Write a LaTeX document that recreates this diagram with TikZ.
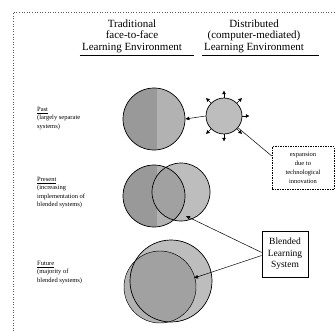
\documentclass[tikz,border=0pt]{standalone}
\usepackage{fontspec}
\setmainfont{Liberation Serif}
\usetikzlibrary{arrows.meta,calc}
\definecolor{tradD}{gray}{0.60}
\definecolor{tradL}{gray}{0.70}
\definecolor{distC}{gray}{0.74}
\definecolor{ovC}{gray}{0.63}
\tikzset{
  hdr/.style={align=center,inner sep=0pt,font=\fontsize{11}{11.5}\selectfont},
  lbl/.style={align=left,inner sep=0pt,anchor=north west,font=\fontsize{6.5}{8.5}\selectfont},
  circ/.style={circle,draw=black,line width=0.7pt,inner sep=0pt},
  arr/.style={-{Triangle[length=4pt,width=3.5pt]},line width=0.5pt},
  ray/.style={-{Triangle[length=3.5pt,width=3.5pt]},line width=0.6pt},
  conn/.style={line width=0.5pt},
  frame/.style={dotted,line width=0.6pt,gray!70!black}
}
\begin{document}
\begin{tikzpicture}[x=1pt,y=-1pt]
\useasboundingbox (0,0) rectangle (336,331);
% frame
\coordinate (fl) at (13,331);
\coordinate (fc) at (13,12);
\coordinate (fr) at (336,12);
\draw[frame] (fl) -- (fc) -- (fr);
% headers
\node[hdr] (trad) at (132,36) {Traditional\\face-to-face\\Learning Environment};
\node[hdr] (dist) at (254,36) {Distributed\\(computer-mediated)\\Learning Environment};
\draw[line width=0.6pt] ([yshift=-3pt]trad.south west) ++(-2,0) -- ++(114,0);
\draw[line width=0.6pt] ([yshift=-3pt]dist.south west) ++(-2,0) -- ++(117,0);
% labels
\node[lbl] (lpast) at (37,107) {\underline{Past}\\(largely separate\\systems)};
\node[lbl] (lpres) at (37,177) {\underline{Present}\\(increasing\\implementation of\\blended systems)};
\node[lbl] (lfut) at (37,261) {\underline{Future}\\(majority of\\blended systems)};
% ---------- Past
\begin{scope}
\clip (154,119) circle[radius=31pt];
\fill[tradD] (120,85) rectangle (157,155);
\fill[tradL] (157,85) rectangle (190,155);
\end{scope}
\node[circ,minimum size=62pt] (past) at (154,119) {};
\node[circ,minimum size=36pt,fill=distC] (sc) at (224,116) {};
\draw[arr] (sc.west) -- (past.east);
\foreach \a in {90,45,0,-45,-90,-135,135}
  \draw[ray] (sc.\a) -- ($(sc.\a)!-7pt!(sc.center)$);
% ---------- Present
\begin{scope}
\clip (154,196) circle[radius=31pt];
\fill[tradD] (120,160) rectangle (157,235);
\fill[tradL] (157,160) rectangle (195,235);
\end{scope}
\fill[distC] (181,192) circle[radius=29pt];
\begin{scope}
\clip (154,196) circle[radius=31pt];
\fill[ovC] (181,192) circle[radius=29pt];
\end{scope}
\node[circ,minimum size=62pt] (presT) at (154,196) {};
\node[circ,minimum size=58pt] (presD) at (181,192) {};
% ---------- Future
\fill[distC] (171,281) circle[radius=41pt];
\fill[tradL] (160,287) circle[radius=36pt];
\begin{scope}
\clip (171,281) circle[radius=41pt];
\fill[ovC] (160,287) circle[radius=36pt];
\end{scope}
\node[circ,minimum size=82pt] (futD) at (171,281) {};
\node[circ,minimum size=72pt,line width=0.45pt] (futT) at (160,287) {};
% ---------- boxes
\node[draw,dash pattern=on 1.5pt off 1pt,line width=0.5pt,minimum width=62pt,minimum height=43pt,align=center,inner sep=0pt,
      font=\fontsize{6.5}{9}\selectfont] (exp) at (303,168) {expansion\\due to\\technological\\innovation};
\node[draw,line width=0.7pt,minimum width=46pt,minimum height=46pt,align=center,inner sep=0pt,
      font=\fontsize{9.5}{11.5}\selectfont] (blend) at (285,254) {Blended\\Learning\\System};
\draw[conn] (sc.-40) -- ([yshift=12pt]exp.west);
\coordinate (presOv) at (186,216);
\coordinate (futOv) at (194,278);
\draw[arr] ([yshift=1.5pt]blend.west) -- (presOv);
\draw[arr] ([yshift=-1.5pt]blend.west) -- (futOv);
\end{tikzpicture}
\end{document}
